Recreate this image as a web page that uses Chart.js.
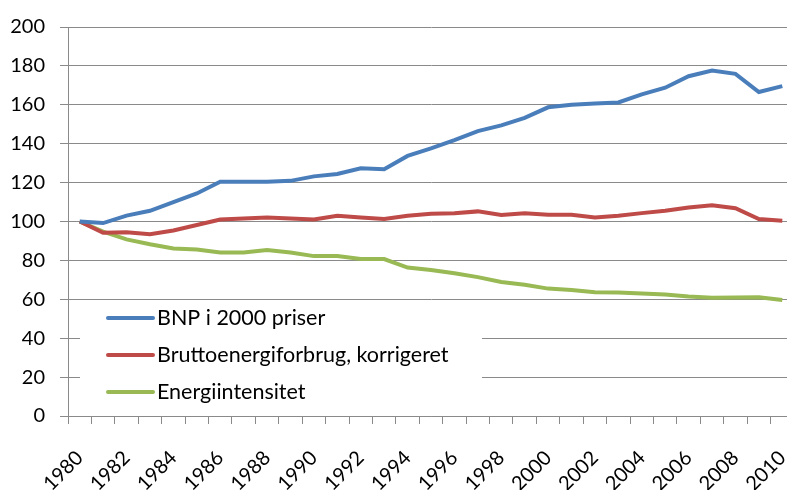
<!DOCTYPE html>
<html>
<head>
<meta charset="utf-8">
<script src="https://cdn.jsdelivr.net/npm/chart.js@4.4.0/dist/chart.umd.min.js"></script>
<style>
  html, body { margin: 0; padding: 0; background: #fff; }
  #wrap { width: 787px; height: 490px; overflow: hidden; position: relative; }
  #chart { position: absolute; left: 0; top: 0; }
</style>
</head>
<body>
<div id="wrap">
  <canvas id="chart" width="800" height="490"></canvas>
</div>
<script>
// data (index, 1980 = 100)
const years = [];
for (let y = 1980; y <= 2010; y++) years.push(String(y));

const bnp = [100, 99.2, 103, 105.5, 110, 114.4, 120.4, 120.4, 120.4, 120.9,
  123.2, 124.4, 127.4, 126.9, 133.7, 137.6, 141.8, 146.5, 149.4, 153.3,
  158.7, 160, 160.7, 161.2, 165.4, 168.8, 174.7, 177.6, 175.9, 166.6, 169.6];

const brutto = [100, 94.2, 94.5, 93.4, 95.4, 98.2, 101, 101.6, 102.1, 101.6,
  101, 103, 102.1, 101.3, 103, 104, 104.3, 105.2, 103.3, 104.3,
  103.5, 103.5, 102.1, 103, 104.3, 105.5, 107.2, 108.4, 106.8, 101.3, 100.4];

const intensitet = [100, 94.8, 90.8, 88.3, 86.1, 85.6, 84.1, 84.1, 85.3, 84.1,
  82.2, 82.2, 80.7, 80.7, 76.3, 75.1, 73.4, 71.4, 68.9, 67.5,
  65.5, 64.8, 63.6, 63.5, 63, 62.5, 61.5, 60.8, 60.9, 61, 59.6];

const seriesNames = ["BNP i 2000 priser", "Bruttoenergiforbrug, korrigeret", "Energiintensitet"];
const seriesColors = ["#4a7ebb", "#be4b48", "#98b954"];

const FONT = "Lato, 'DejaVu Sans', sans-serif";
const gridColor = "#8a8a8a";

// legend drawn inside the plot, on a white box
const insideLegend = {
  id: "insideLegend",
  afterDraw(chart) {
    const ctx = chart.ctx;
    ctx.save();
    ctx.fillStyle = "#fff";
    ctx.fillRect(80, 300, 402, 110);
    chart.data.datasets.forEach((ds, i) => {
      const y = 318 + i * 37;
      ctx.strokeStyle = ds.borderColor;
      ctx.lineWidth = 4;
      ctx.lineCap = "round";
      ctx.beginPath();
      ctx.moveTo(108, y);
      ctx.lineTo(153, y);
      ctx.stroke();
      ctx.fillStyle = "#000";
      ctx.font = "21.5px " + FONT;
      ctx.textBaseline = "middle";
      ctx.textAlign = "left";
      ctx.fillText(ds.label, 157, y);
    });
    ctx.restore();
  }
};

new Chart(document.getElementById("chart"), {
  type: "line",
  data: {
    labels: years,
    datasets: [bnp, brutto, intensitet].map((d, i) => ({
      label: seriesNames[i],
      data: d,
      borderColor: seriesColors[i],
      backgroundColor: seriesColors[i],
      borderWidth: 4,
      pointRadius: 0,
      tension: 0,
      fill: false
    }))
  },
  options: {
    responsive: false,
    animation: false,
    layout: { padding: { top: 22, right: 6, bottom: 0, left: 0 } },
    plugins: {
      legend: { display: false },
      tooltip: { enabled: false }
    },
    scales: {
      x: {
        offset: true,
        grid: {
          offset: true,
          drawOnChartArea: false,
          drawTicks: true,
          tickLength: 8,
          color: gridColor
        },
        border: { color: gridColor },
        ticks: {
          autoSkip: false,
          maxRotation: 45,
          minRotation: 45,
          padding: 22,
          color: "#000",
          font: { family: FONT, size: 20 },
          callback: function (val, idx) {
            const lab = this.getLabelForValue(val);
            return Number(lab) % 2 === 0 ? lab : "";
          }
        },
        afterFit(scale) {
          scale.height = 74;
          scale.paddingLeft = 0;
          scale.paddingRight = 0;
        }
      },
      y: {
        min: 0,
        max: 200,
        grid: { color: gridColor, tickLength: 8 },
        border: { color: gridColor },
        ticks: {
          stepSize: 20,
          padding: 15,
          color: "#000",
          font: { family: FONT, size: 20 }
        },
        afterFit(scale) { scale.width = 68; }
      }
    }
  },
  plugins: [insideLegend]
});
</script>
</body>
</html>
